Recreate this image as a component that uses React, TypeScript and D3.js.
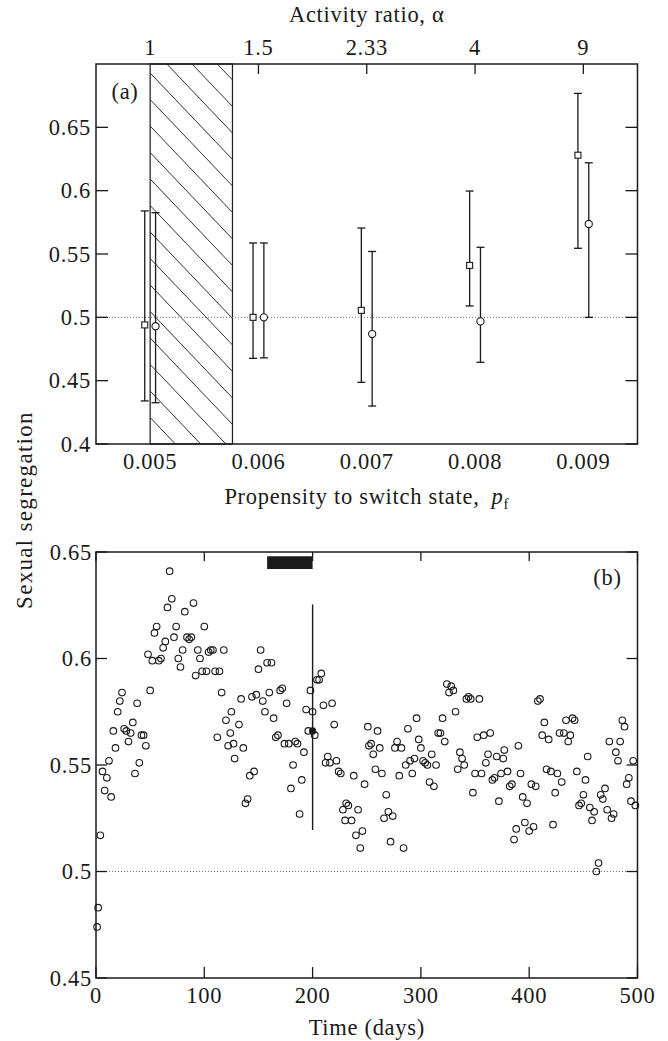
import React from 'react';
import * as d3 from 'd3';

// ---------- Panel (a) data ----------
const pfTicks = [0.005, 0.006, 0.007, 0.008, 0.009];
const alphaLabels = ['1', '1.5', '2.33', '4', '9'];
const sqMean = [0.494, 0.5, 0.5055, 0.541, 0.628];
const sqLow = [0.434, 0.4676, 0.4487, 0.509, 0.5545];
const sqHigh = [0.584, 0.5587, 0.5705, 0.5997, 0.6768];
const ciMean = [0.493, 0.5, 0.4868, 0.4968, 0.5737];
const ciLow = [0.4326, 0.468, 0.43, 0.4645, 0.5];
const ciHigh = [0.5826, 0.5587, 0.552, 0.5553, 0.622];
const yTicksA = [0.4, 0.45, 0.5, 0.55, 0.6, 0.65];
const hatchFrom = 0.005;
const hatchTo = 0.00576;

// ---------- Panel (b) data ----------
const days = [
  1, 2, 4, 6, 8, 10, 12, 14, 16, 18, 20, 22, 24, 26, 28, 30, 32, 34, 36, 38,
  40, 42, 44, 46, 48, 50, 52, 54, 56, 58, 60, 62, 64, 66, 68, 70, 72, 74, 76, 78,
  80, 82, 84, 86, 88, 90, 92, 94, 96, 98, 100, 102, 104, 106, 108, 110, 112, 114, 116, 118,
  120, 122, 124, 125, 127, 128, 132, 134, 136, 138, 140, 142, 144, 146, 148, 150, 152, 154, 156, 158,
  160, 162, 164, 166, 168, 170, 172, 174, 176, 178, 180, 182, 184, 186, 188, 190, 192, 194, 196, 198,
  200, 202, 204, 206, 208, 210, 212, 214, 216, 218, 220, 222, 224, 226, 228, 230, 231, 233, 236, 238,
  240, 242, 244, 246, 248, 251, 252, 254, 256, 258, 260, 262, 264, 266, 268, 270, 272, 274, 276, 278,
  280, 282, 284, 286, 288, 290, 292, 294, 296, 298, 300, 302, 304, 306, 308, 310, 312, 314, 316, 318,
  320, 322, 324, 326, 328, 330, 332, 334, 336, 338, 340, 342, 344, 346, 348, 350, 352, 354, 356, 358,
  360, 362, 364, 366, 368, 370, 372, 374, 376, 377, 380, 382, 384, 386, 388, 390, 392, 394, 396, 398,
  400, 402, 404, 406, 408, 410, 412, 414, 416, 418, 420, 422, 424, 426, 428, 430, 432, 434, 436, 438,
  440, 442, 444, 446, 448, 450, 452, 454, 456, 458, 460, 462, 464, 466, 468, 470, 472, 474, 476, 478,
  480, 482, 484, 486, 488, 490, 492, 494, 496, 498,
];
const segregation = [
  0.474, 0.483, 0.517, 0.547, 0.538, 0.544, 0.552, 0.535, 0.566, 0.558, 0.575, 0.58, 0.584, 0.567, 0.566, 0.561, 0.565, 0.57, 0.546, 0.579,
  0.551, 0.564, 0.564, 0.559, 0.602, 0.585, 0.599, 0.612, 0.615, 0.599, 0.6, 0.605, 0.608, 0.624, 0.641, 0.628, 0.61, 0.615, 0.6, 0.596,
  0.604, 0.622, 0.61, 0.609, 0.61, 0.626, 0.592, 0.604, 0.6, 0.594, 0.615, 0.594, 0.603, 0.604, 0.604, 0.594, 0.563, 0.594, 0.584, 0.604,
  0.571, 0.559, 0.565, 0.575, 0.56, 0.553, 0.569, 0.581, 0.558, 0.532, 0.534, 0.545, 0.582, 0.547, 0.583, 0.595, 0.604, 0.58, 0.575, 0.598,
  0.584, 0.598, 0.572, 0.563, 0.564, 0.585, 0.586, 0.56, 0.579, 0.56, 0.539, 0.55, 0.561, 0.56, 0.527, 0.543, 0.556, 0.576, 0.566, 0.585,
  0.575, 0.564, 0.59, 0.59, 0.593, 0.578, 0.551, 0.554, 0.551, 0.579, 0.569, 0.552, 0.547, 0.546, 0.529, 0.524, 0.532, 0.531, 0.524, 0.545,
  0.517, 0.529, 0.511, 0.519, 0.541, 0.568, 0.559, 0.56, 0.555, 0.548, 0.566, 0.558, 0.546, 0.525, 0.536, 0.528, 0.514, 0.526, 0.558, 0.561,
  0.545, 0.558, 0.511, 0.55, 0.567, 0.552, 0.546, 0.553, 0.572, 0.562, 0.558, 0.552, 0.551, 0.55, 0.542, 0.555, 0.54, 0.55, 0.565, 0.565,
  0.572, 0.561, 0.588, 0.584, 0.587, 0.585, 0.575, 0.548, 0.556, 0.553, 0.55, 0.581, 0.582, 0.581, 0.537, 0.546, 0.563, 0.581, 0.546, 0.564,
  0.551, 0.555, 0.565, 0.543, 0.544, 0.554, 0.533, 0.546, 0.553, 0.557, 0.547, 0.54, 0.541, 0.515, 0.52, 0.559, 0.546, 0.535, 0.523, 0.532,
  0.519, 0.541, 0.521, 0.54, 0.58, 0.581, 0.564, 0.57, 0.548, 0.562, 0.547, 0.522, 0.537, 0.546, 0.565, 0.542, 0.565, 0.571, 0.561, 0.564,
  0.572, 0.571, 0.547, 0.531, 0.532, 0.536, 0.543, 0.554, 0.53, 0.524, 0.528, 0.5, 0.504, 0.536, 0.534, 0.539, 0.529, 0.561, 0.525, 0.527,
  0.556, 0.552, 0.561, 0.571, 0.568, 0.541, 0.544, 0.533, 0.552, 0.531,
];
const markDay = [200];
const markValue = [0.566];
const markLow = [0.5195];
const markHigh = [0.6254];
const barStartDay = 158;
const barEndDay = 200;
const barLow = 0.642;
const barHigh = 0.648;
const xTicksB = [0, 100, 200, 300, 400, 500];
const yTicksB = [0.45, 0.5, 0.55, 0.6, 0.65];

const FONT = "'Liberation Serif', 'Times New Roman', serif";
const INK = '#1a1a1a';

export default function App() {
  const W = 668;
  const H = 1041;
  const left = 96;
  const right = 637.5;

  const xA = d3.scaleLinear().domain([0.0045, 0.0095]).range([left, right]);
  const yA = d3.scaleLinear().domain([0.4, 0.7]).range([444, 64]);
  const xB = d3.scaleLinear().domain([0, 500]).range([left, right]);
  const yB = d3.scaleLinear().domain([0.45, 0.65]).range([978, 552]);

  const tick = 11;
  const fs = 22.5;
  const ls = 0.7;

  // hatch lines
  const hx0 = xA(hatchFrom);
  const hx1 = xA(hatchTo);
  const hTop = yA(0.7);
  const hBot = yA(0.4);
  const hatchLines: { x1: number; y1: number; x2: number; y2: number }[] = [];
  const spacing = 26.5;
  const slope = 1.05;
  for (let k = -6; k < 20; k++) {
    const y0 = hTop + k * spacing + 9;
    hatchLines.push({ x1: hx0, y1: y0, x2: hx1, y2: y0 + (hx1 - hx0) * slope });
  }

  const cap = 4;

  return (
    <div style={{ position: 'absolute', left: 0, top: 0 }}>
      <svg width={W} height={H} style={{ display: 'block', background: '#fff' }} fontFamily={FONT} letterSpacing={ls}>
        <defs>
          <clipPath id="hatchClip">
            <rect x={hx0} y={hTop} width={hx1 - hx0} height={hBot - hTop} />
          </clipPath>
        </defs>

        {/* ---------------- Panel (a) ---------------- */}
        <text x={(left + right) / 2} y={22} textAnchor="middle" fontSize={fs} fill={INK}>
          Activity ratio, α
        </text>
        {pfTicks.map((p, i) => (
          <text key={'al' + i} x={xA(p)} y={55} textAnchor="middle" fontSize={fs} fill={INK}>
            {alphaLabels[i]}
          </text>
        ))}
        {/* hatch */}
        <g clipPath="url(#hatchClip)">
          {hatchLines.map((l, i) => (
            <line key={'h' + i} x1={l.x1} y1={l.y1} x2={l.x2} y2={l.y2} stroke={INK} strokeWidth={0.9} />
          ))}
        </g>
        <rect x={hx0} y={hTop} width={hx1 - hx0} height={hBot - hTop} fill="none" stroke={INK} strokeWidth={1.2} />

        {/* dotted 0.5 */}
        <line x1={left + 1} x2={right - 1} y1={yA(0.5)} y2={yA(0.5)} stroke="#777" strokeWidth={1} strokeDasharray="1,2" />

        {/* frame */}
        <rect x={left} y={yA(0.7)} width={right - left} height={yA(0.4) - yA(0.7)} fill="none" stroke={INK} strokeWidth={1.5} />
        {yTicksA.map((v, i) => (
          <g key={'yta' + i}>
            <line x1={left} x2={left + 12} y1={yA(v)} y2={yA(v)} stroke={INK} strokeWidth={1.3} />
            <line x1={right} x2={right - 12} y1={yA(v)} y2={yA(v)} stroke={INK} strokeWidth={1.3} />
            <text x={left - 5} y={yA(v) + 7.5} textAnchor="end" fontSize={fs} fill={INK}>
              {String(v)}
            </text>
          </g>
        ))}
        {pfTicks.slice(1).map((p, i) => (
          <line key={'tt' + i} x1={xA(p)} x2={xA(p)} y1={yA(0.7)} y2={yA(0.7) + 10} stroke={INK} strokeWidth={1.3} />
        ))}
        {pfTicks.map((p, i) => (
          <text key={'pl' + i} x={xA(p)} y={469} textAnchor="middle" fontSize={fs} fill={INK}>
            {p.toFixed(3)}
          </text>
        ))}
        <text x={(left + right) / 2} y={504} textAnchor="middle" fontSize={fs} fill={INK}>
          Propensity to switch state,{'\u2002'}
          <tspan fontStyle="italic">p</tspan>
          <tspan fontSize={15} dy={5}>f</tspan>
        </text>

        {/* error bars and markers */}
        {pfTicks.map((p, i) => {
          const xs = xA(p - 0.00005);
          const xc = xA(p + 0.00005);
          return (
            <g key={'eb' + i} stroke={INK} strokeWidth={1.3}>
              <line x1={xs} x2={xs} y1={yA(sqLow[i])} y2={yA(sqHigh[i])} />
              <line x1={xs - cap} x2={xs + cap} y1={yA(sqLow[i])} y2={yA(sqLow[i])} />
              <line x1={xs - cap} x2={xs + cap} y1={yA(sqHigh[i])} y2={yA(sqHigh[i])} />
              <line x1={xc} x2={xc} y1={yA(ciLow[i])} y2={yA(ciHigh[i])} />
              <line x1={xc - cap} x2={xc + cap} y1={yA(ciLow[i])} y2={yA(ciLow[i])} />
              <line x1={xc - cap} x2={xc + cap} y1={yA(ciHigh[i])} y2={yA(ciHigh[i])} />
              <rect x={xs - 3} y={yA(sqMean[i]) - 3} width={6} height={6} fill="#fff" strokeWidth={1.1} />
              <circle cx={xc} cy={yA(ciMean[i])} r={3.6} fill="#fff" strokeWidth={1.1} />
            </g>
          );
        })}
        <text x={left + 29} y={yA(0.7) + 35} textAnchor="middle" fontSize={fs} fill={INK}>
          (a)
        </text>

        {/* y label */}
        <text transform={`translate(32,510) rotate(-90)`} textAnchor="middle" fontSize={23} letterSpacing={1.3} fill={INK}>
          Sexual segregation
        </text>

        {/* ---------------- Panel (b) ---------------- */}
        <line x1={left + 1} x2={right - 1} y1={yB(0.5)} y2={yB(0.5)} stroke="#777" strokeWidth={1} strokeDasharray="1,2" />
        <rect x={left} y={yB(0.65)} width={right - left} height={yB(0.45) - yB(0.65)} fill="none" stroke={INK} strokeWidth={1.5} />
        {yTicksB.map((v, i) => (
          <g key={'ytb' + i}>
            <line x1={left} x2={left + tick} y1={yB(v)} y2={yB(v)} stroke={INK} strokeWidth={1.3} />
            <line x1={right} x2={right - tick} y1={yB(v)} y2={yB(v)} stroke={INK} strokeWidth={1.3} />
            <text x={left - 4} y={yB(v) + 7.5} textAnchor="end" fontSize={fs} fill={INK}>
              {String(v)}
            </text>
          </g>
        ))}
        {xTicksB.map((d, i) => (
          <g key={'xtb' + i}>
            <line x1={xB(d)} x2={xB(d)} y1={yB(0.45)} y2={yB(0.45) - tick} stroke={INK} strokeWidth={1.3} />
            <line x1={xB(d)} x2={xB(d)} y1={yB(0.65)} y2={yB(0.65) + 9} stroke={INK} strokeWidth={1.3} />
            <text x={xB(d)} y={1003} textAnchor="middle" fontSize={fs} fill={INK}>
              {String(d)}
            </text>
          </g>
        ))}
        <text x={(left + right) / 2} y={1035} textAnchor="middle" fontSize={fs} fill={INK}>
          Time (days)
        </text>

        <rect
          x={xB(barStartDay)}
          y={yB(barHigh)}
          width={xB(barEndDay) - xB(barStartDay)}
          height={yB(barLow) - yB(barHigh)}
          fill={INK}
        />
        {markDay.map((d, i) => (
          <line key={'ml' + i} x1={xB(d)} x2={xB(d)} y1={yB(markLow[i])} y2={yB(markHigh[i])} stroke={INK} strokeWidth={1.4} />
        ))}

        {days.map((d, i) => (
          <circle key={'p' + i} cx={xB(d)} cy={yB(segregation[i])} r={3.3} fill="none" stroke={INK} strokeWidth={1.1} />
        ))}
        {markDay.map((d, i) => (
          <circle key={'mf' + i} cx={xB(d)} cy={yB(markValue[i])} r={3.6} fill={INK} />
        ))}

        <text x={right - 30} y={585} textAnchor="middle" fontSize={fs} fill={INK}>
          (b)
        </text>
      </svg>
    </div>
  );
}
